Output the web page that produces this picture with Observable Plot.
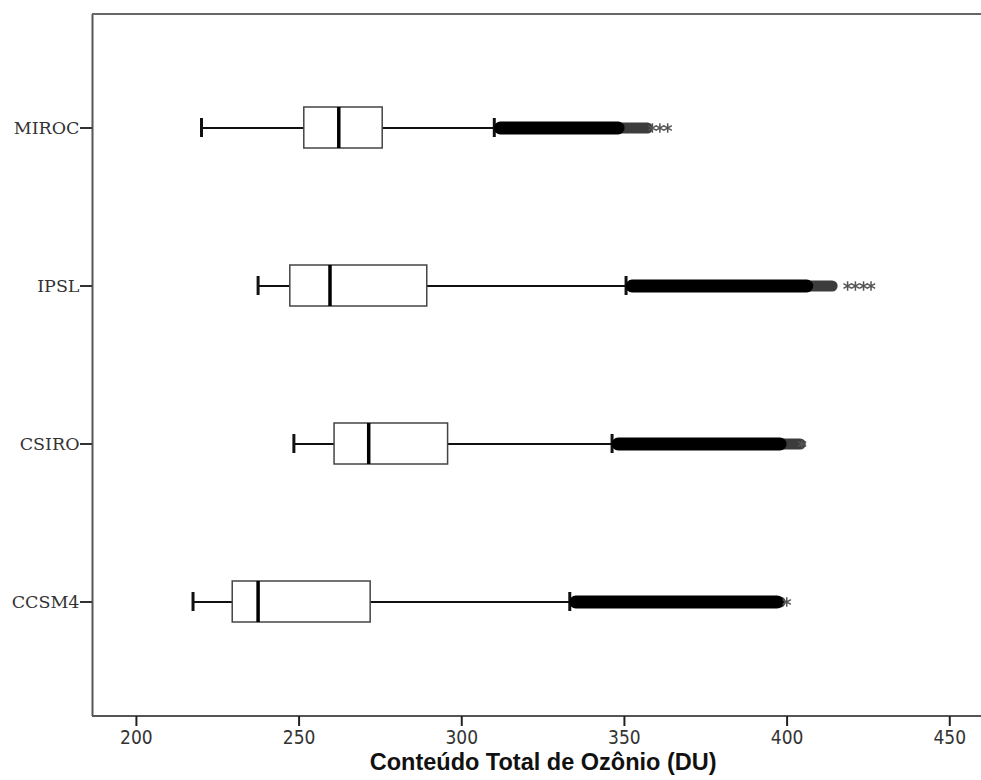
<!DOCTYPE html>
<html>
<head>
<meta charset="utf-8">
<script src="https://cdn.jsdelivr.net/npm/d3@7"></script>
<script src="https://cdn.jsdelivr.net/npm/@observablehq/plot@0.6"></script>
<style>
  html, body { margin: 0; padding: 0; background: #fff; }
  #chart { width: 981px; height: 780px; overflow: hidden; }
  #chart svg { display: block; overflow: visible; }
</style>
</head>
<body>
<div id="chart"></div>
<script>
// ---- data ----
const categories   = ["MIROC", "IPSL", "CSIRO", "CCSM4"];
const whiskerLow   = [220.0, 237.4, 248.4, 217.4];
const q1           = [251.6, 247.3, 260.9, 229.6];
const median       = [262.2, 259.5, 271.4, 237.4];
const q3           = [275.7, 289.4, 295.8, 272.0];
const whiskerHigh  = [310.0, 350.5, 346.2, 333.2];
const outlierLow   = [312.0, 352.5, 348.2, 335.2];   // first outlier (dense band start)
const outlierDense = [348.2, 406.2, 398.0, 397.1];   // end of dense outlier band
const outlierTail  = [357.2, 414.0, 404.2, 398.0];   // end of sparser outlier circles
const extremes     = [[358.6, 360.9, 363.3], [418.6, 421.0, 423.5, 425.8], [404.6], [399.9]];
const xTicks       = [200, 250, 300, 350, 400, 450];
const xTitle       = "Conteúdo Total de Ozônio (DU)";

const rows = categories.map((c, i) => ({
  cat: c, lo: whiskerLow[i], q1: q1[i], med: median[i], q3: q3[i], hi: whiskerHigh[i],
  oLo: outlierLow[i], oDense: outlierDense[i], oTail: outlierTail[i]
}));
const ext = categories.flatMap((c, i) => extremes[i].map(v => ({cat: c, v})));
const xMin = 186.5;
const xEdge = 460.5;   // value at the right edge of the picture

const chart = Plot.plot({
  width: 960,
  height: 780,
  marginLeft: 92,
  marginRight: 0,
  marginTop: 14,
  marginBottom: 64,
  style: {background: "transparent", overflow: "visible"},
  x: {domain: [xMin, 453.3]},
  y: {domain: categories, paddingInner: 0.74, paddingOuter: 0.59},
  marks: [
    Plot.ruleX([xMin], {stroke: "#555", strokeWidth: 2}),
    Plot.ruleY([categories[0]], {x1: xMin, x2: xEdge, dy: -114, stroke: "#666", strokeWidth: 2}),
    Plot.ruleY([categories[categories.length - 1]], {x1: xMin, x2: xEdge, dy: 114, stroke: "#555", strokeWidth: 2}),
    Plot.axisX({ticks: xTicks, tickSize: 10, tickPadding: 4, tickFormat: d => String(d),
      fontSize: 19, fontFamily: "DejaVu Sans Condensed, Liberation Sans Narrow, sans-serif",
      stroke: "#222", strokeWidth: 2, fill: "#333", label: null}),
    Plot.axisY({tickSize: 12, tickPadding: 1, fontSize: 17.5, fontFamily: "DejaVu Serif, serif",
      stroke: "#333", strokeWidth: 2, fill: "#333", label: null}),
    // whiskers
    Plot.ruleY(rows, {y: "cat", x1: "lo", x2: "q1", stroke: "#111", strokeWidth: 2}),
    Plot.ruleY(rows, {y: "cat", x1: "q3", x2: "hi", stroke: "#111", strokeWidth: 2}),
    Plot.tickX(rows, {x: "lo", y: "cat", stroke: "#111", strokeWidth: 3, insetTop: 11, insetBottom: 11}),
    Plot.tickX(rows, {x: "hi", y: "cat", stroke: "#111", strokeWidth: 3, insetTop: 11, insetBottom: 11}),
    // boxes
    Plot.barX(rows, {y: "cat", x1: "q1", x2: "q3", fill: "#fff", stroke: "#444", strokeWidth: 1.5}),
    Plot.tickX(rows, {x: "med", y: "cat", stroke: "#000", strokeWidth: 3.5}),
    // outliers
    Plot.ruleY(rows, {y: "cat", x1: "oDense", x2: "oTail", stroke: "#3c3c3c", strokeWidth: 11, strokeLinecap: "round"}),
    Plot.ruleY(rows, {y: "cat", x1: "oLo", x2: "oDense", stroke: "#000", strokeWidth: 13, strokeLinecap: "round"}),
    Plot.dot(ext, {x: "v", y: "cat", symbol: "asterisk", r: 4.5, stroke: "#555", strokeWidth: 1.5}),
    // x title
    Plot.text([xTitle], {x: 325, frameAnchor: "bottom", dy: 53, fontWeight: "bold", fontSize: 23.5,
      fontFamily: "Liberation Sans, Arial, sans-serif", fill: "#111"})
  ]
});
document.getElementById("chart").appendChild(chart);
</script>
</body>
</html>
